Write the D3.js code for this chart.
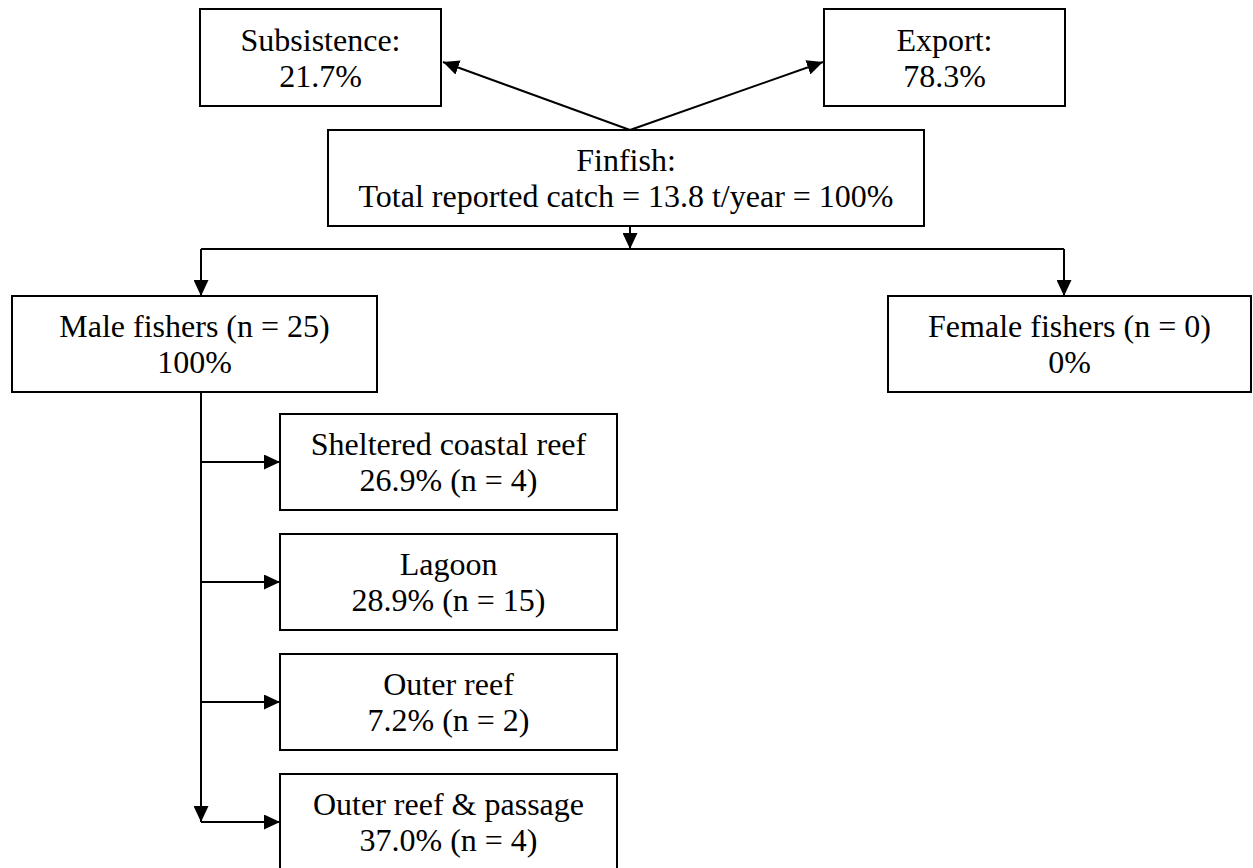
<!DOCTYPE html>
<html>
<head>
<meta charset="utf-8">
<script src="https://cdn.jsdelivr.net/npm/d3@7"></script>
<style>
body { margin: 0; background: #fff; }
text { font-family: "Liberation Serif", "Times New Roman", serif; font-size: 32px; fill: #000; }
.box { fill: #fff; stroke: #000; stroke-width: 2; }
.link { fill: none; stroke: #000; stroke-width: 2; }
</style>
</head>
<body>
<script>
// values
var useLabels = ["Subsistence:", "Export:"];
var useShares = [21.7, 78.3];
var totalCatch = 13.8;
var genderLabels = ["Male fishers", "Female fishers"];
var genderN = [25, 0];
var genderShares = [100, 0];
var habitatLabels = ["Sheltered coastal reef", "Lagoon", "Outer reef", "Outer reef & passage"];
var habitatShares = [26.9, 28.9, 7.2, 37.0];
var habitatN = [4, 15, 2, 4];

var width = 1253, height = 868;
var pct1 = d3.format(".1f");

var svg = d3.select("body").append("svg")
    .attr("width", width)
    .attr("height", height);

svg.append("defs").append("marker")
    .attr("id", "arrow")
    .attr("viewBox", "0 0 16 15")
    .attr("refX", 16)
    .attr("refY", 7.5)
    .attr("markerWidth", 16)
    .attr("markerHeight", 15)
    .attr("markerUnits", "userSpaceOnUse")
    .attr("orient", "auto")
  .append("path")
    .attr("d", "M0,0L16,7.5L0,15Z")
    .attr("fill", "#000");

// layout scales
var useX = d3.scaleOrdinal().domain(useLabels).range([200, 824]);
var genderX = d3.scaleOrdinal().domain(genderLabels).range([12, 888]);
var genderW = d3.scaleOrdinal().domain(genderLabels).range([365, 363]);
var habitatY = d3.scaleBand()
    .domain(habitatLabels)
    .range([414, 870])
    .paddingInner(0.2)
    .paddingOuter(0);

var finfish = {x: 328, y: 130, w: 596, h: 96};
var topY = 9, topW = 241, topH = 97;
var genderY = 296, genderH = 96;
var habX = 280, habW = 337;
var splitY = 249;

function box(x, y, w, h, lines) {
  var g = svg.append("g");
  g.append("rect")
      .attr("class", "box")
      .attr("x", x).attr("y", y)
      .attr("width", w).attr("height", h);
  var cy = y + h / 2;
  g.selectAll("text")
      .data(lines)
    .enter().append("text")
      .attr("x", x + w / 2)
      .attr("y", function(d, i) { return cy - 7 + i * 36; })
      .attr("text-anchor", "middle")
      .text(function(d) { return d; });
}

function link(points, arrow) {
  var p = svg.append("path")
      .attr("class", "link")
      .attr("d", d3.line()(points));
  if (arrow) p.attr("marker-end", "url(#arrow)");
}

// finfish -> subsistence / export
var apex = [finfish.x + finfish.w / 2 + 4, finfish.y];
useLabels.forEach(function(d, i) {
  var x0 = useX(d);
  var tipX = i === 0 ? x0 + topW + 2 : x0 - 1;
  link([apex, [tipX, topY + 53]], true);
});

// finfish -> gender split
var midX = apex[0];
link([[midX, finfish.y + finfish.h], [midX, splitY]], true);
var armX = [201, 1064];
link([[armX[0], splitY], [armX[1], splitY]], false);
armX.forEach(function(ax) {
  link([[ax, splitY], [ax, genderY]], true);
});

// male -> habitats
var lastCy = habitatY(habitatLabels[habitatLabels.length - 1]) + habitatY.bandwidth() / 2;
link([[armX[0], genderY + genderH], [armX[0], lastCy]], true);
habitatLabels.forEach(function(d) {
  var cy = habitatY(d) + habitatY.bandwidth() / 2;
  link([[armX[0], cy], [habX, cy]], true);
});

// boxes
useLabels.forEach(function(d, i) {
  box(useX(d), topY, topW, topH, [d, pct1(useShares[i]) + "%"]);
});

box(finfish.x, finfish.y, finfish.w, finfish.h,
    ["Finfish:", "Total reported catch = " + totalCatch + " t/year = 100%"]);

genderLabels.forEach(function(d, i) {
  box(genderX(d), genderY, genderW(d), genderH,
      [d + " (n = " + genderN[i] + ")", genderShares[i] + "%"]);
});

habitatLabels.forEach(function(d, i) {
  box(habX, habitatY(d), habW, habitatY.bandwidth(),
      [d, pct1(habitatShares[i]) + "% (n = " + habitatN[i] + ")"]);
});
</script>
</body>
</html>
